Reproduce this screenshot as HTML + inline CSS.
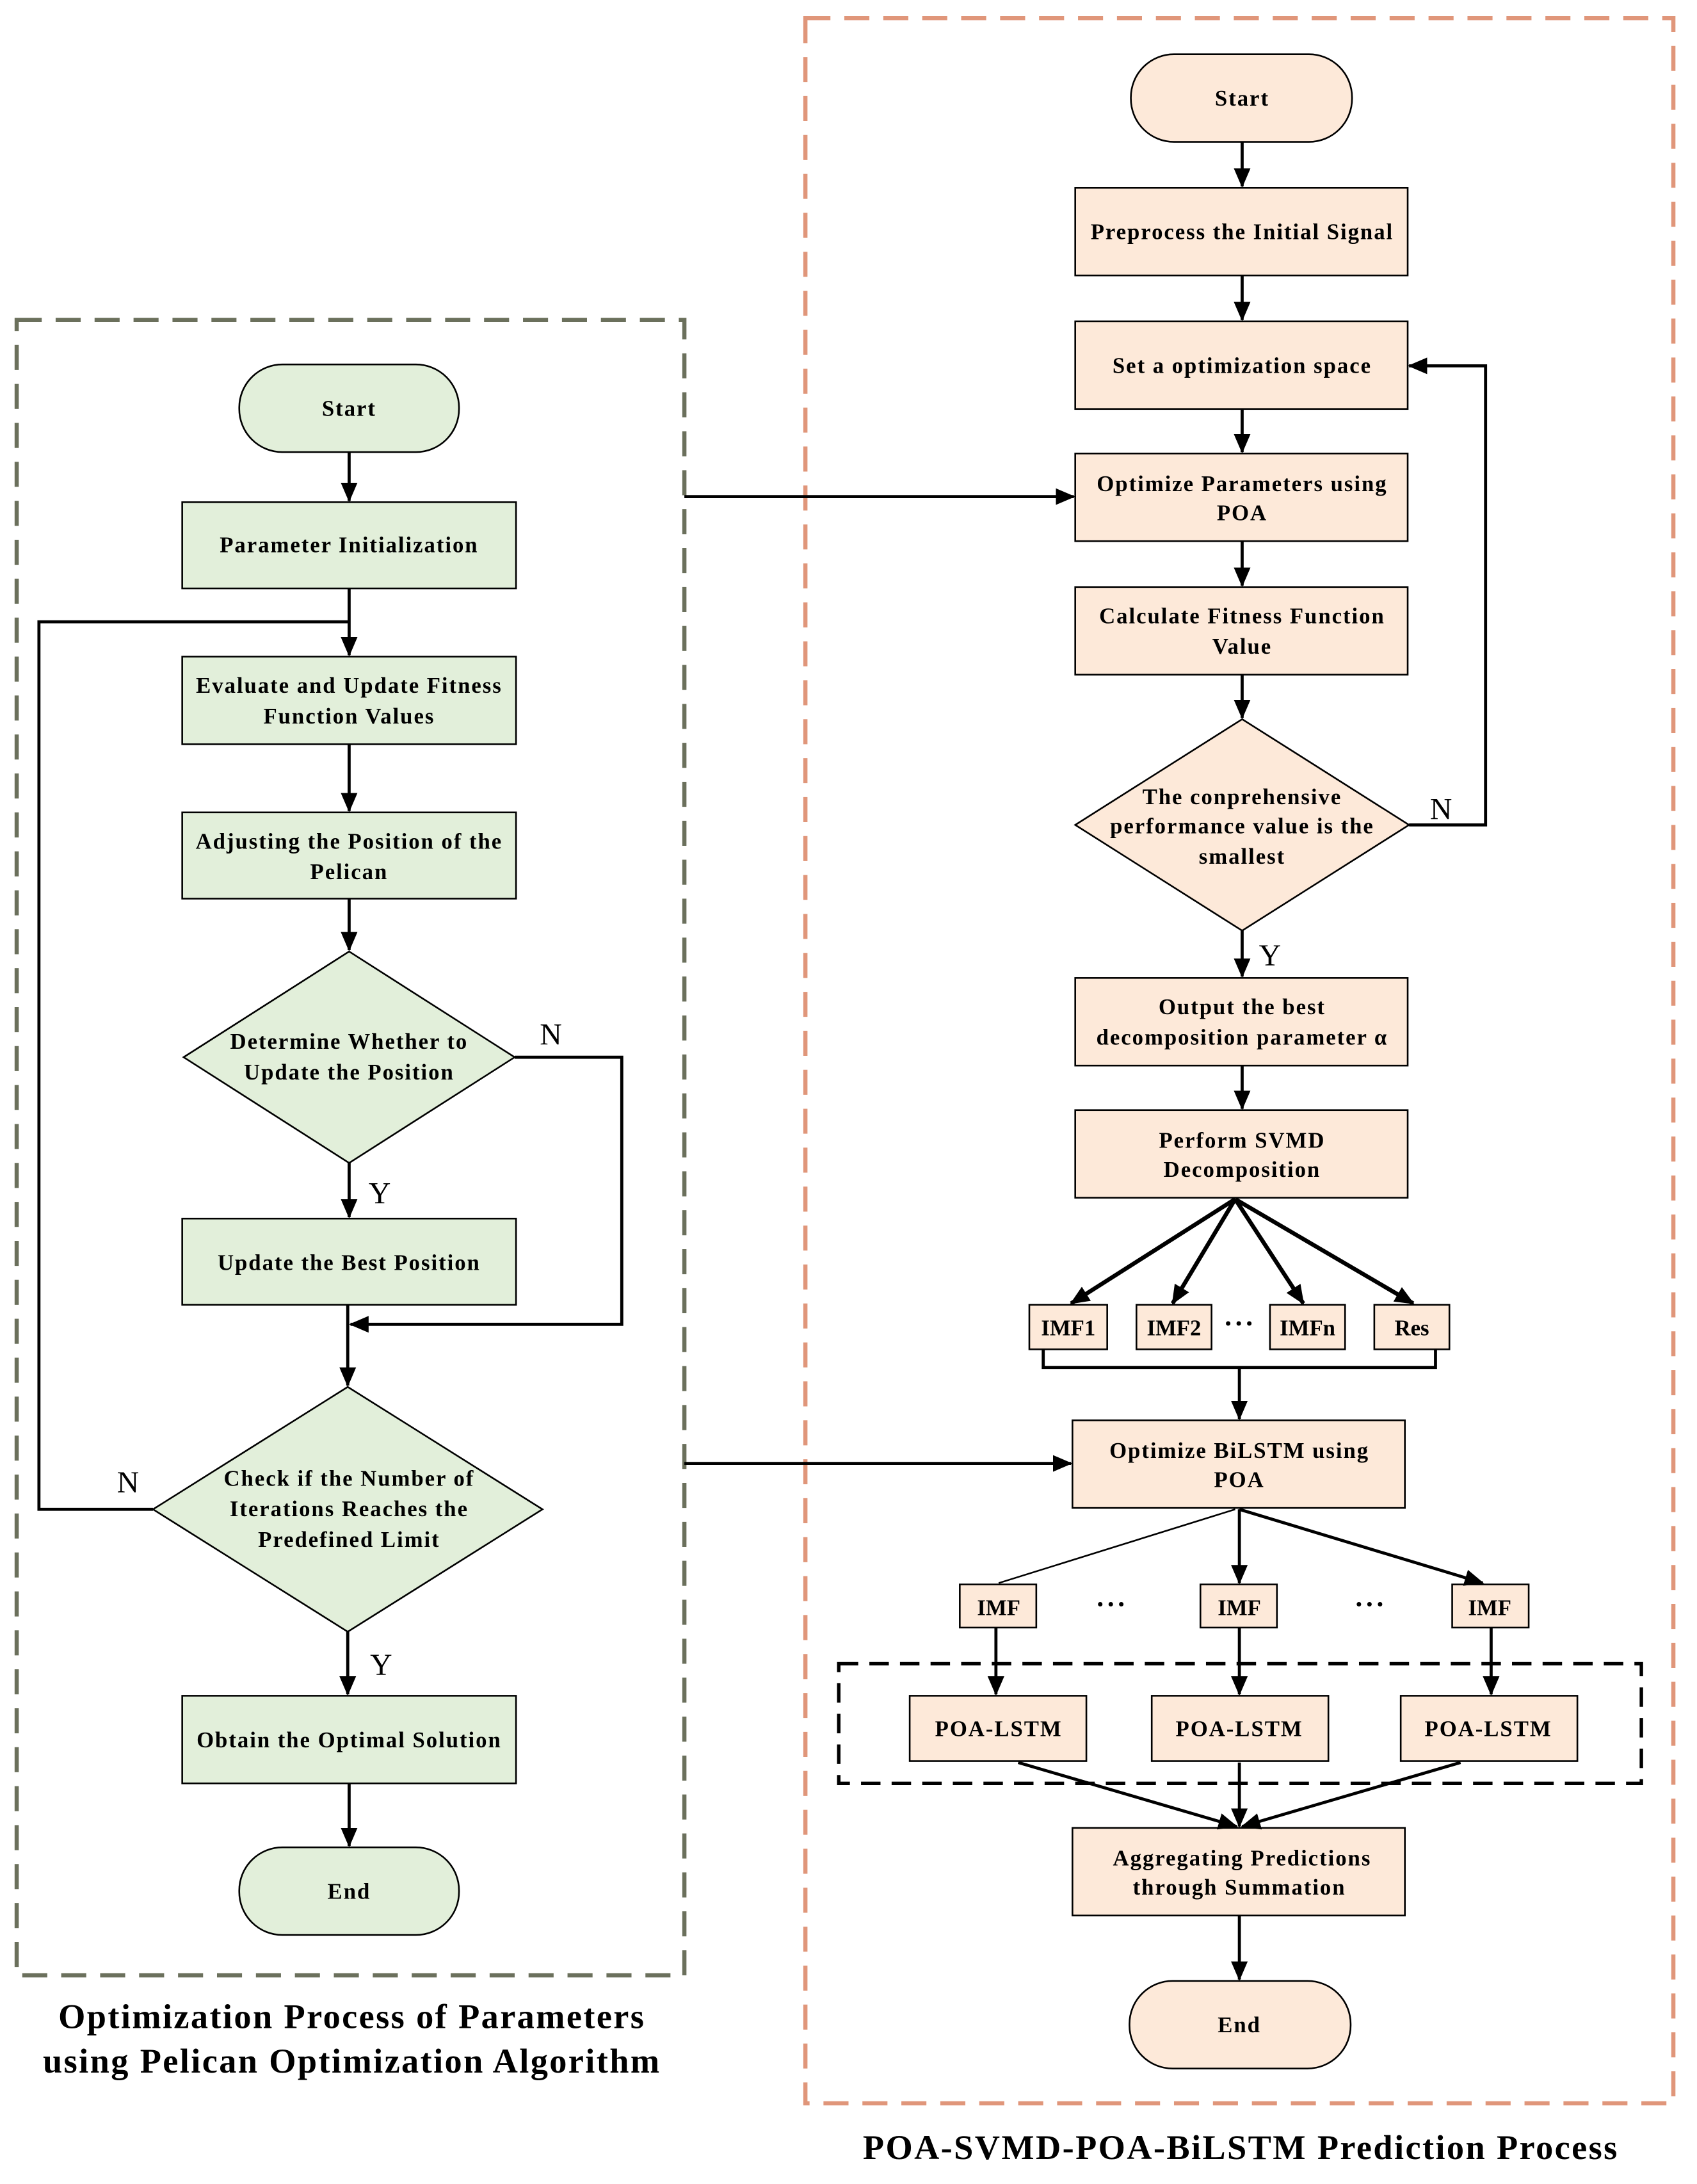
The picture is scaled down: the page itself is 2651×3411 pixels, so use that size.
<!DOCTYPE html>
<html><head><meta charset="utf-8"><style>html,body{margin:0;padding:0;background:#fff}svg{display:block}</style></head><body>
<svg width="2651" height="3411" viewBox="0 0 1220 1570" preserveAspectRatio="none" xmlns="http://www.w3.org/2000/svg" font-family="Liberation Serif, serif">
<defs>
<marker id="a" markerUnits="userSpaceOnUse" markerWidth="14" markerHeight="14" refX="13" refY="7" orient="auto"><path d="M0,1 L14,7 L0,13 Z" fill="#000"/></marker>
</defs>
<rect x="12" y="230" width="480" height="1190" fill="none" stroke="#6b705c" stroke-width="3" stroke-dasharray="18,10"/>
<rect x="579" y="13" width="624" height="1499" fill="none" stroke="#e0967a" stroke-width="3" stroke-dasharray="18,10"/>
<g stroke="#000" stroke-width="1.2" fill="#e2efda">
<rect x="172" y="262" width="158" height="63" rx="31"/>
<rect x="131" y="361" width="240" height="62"/>
<rect x="131" y="472" width="240" height="63"/>
<rect x="131" y="584" width="240" height="62"/>
<path d="M251,684 L370,760 L251,836 L132,760 Z"/>
<rect x="131" y="876" width="240" height="62"/>
<path d="M250,997 L390,1085 L250,1173 L110,1085 Z"/>
<rect x="131" y="1219" width="240" height="63"/>
<rect x="172" y="1328" width="158" height="63" rx="31"/>
</g>
<g stroke="#000" stroke-width="1.2" fill="#fde9d9">
<rect x="813" y="39" width="159" height="63" rx="31"/>
<rect x="773" y="135" width="239" height="63"/>
<rect x="773" y="231" width="239" height="63"/>
<rect x="773" y="326" width="239" height="63"/>
<rect x="773" y="422" width="239" height="63"/>
<path d="M893,517 L1013,593 L893,669 L773,593 Z"/>
<rect x="773" y="703" width="239" height="63"/>
<rect x="773" y="798" width="239" height="63"/>
<rect x="740" y="938" width="56" height="32"/>
<rect x="817" y="938" width="54" height="32"/>
<rect x="913" y="938" width="54" height="32"/>
<rect x="988" y="938" width="54" height="32"/>
<rect x="771" y="1021" width="239" height="63"/>
<rect x="690" y="1139" width="55" height="31"/>
<rect x="863" y="1139" width="55" height="31"/>
<rect x="1044" y="1139" width="55" height="31"/>
<rect x="654" y="1219" width="127" height="47"/>
<rect x="828" y="1219" width="127" height="47"/>
<rect x="1007" y="1219" width="127" height="47"/>
<rect x="771" y="1314" width="239" height="63"/>
<rect x="812" y="1424" width="159" height="63" rx="31"/>
</g>
<rect x="603" y="1196" width="577" height="86" fill="none" stroke="#000" stroke-width="2.5" stroke-dasharray="14,8"/>
<g stroke="#000" stroke-width="2.2" fill="none">
<line x1="251" y1="325" x2="251" y2="360" marker-end="url(#a)"/>
<line x1="251" y1="423" x2="251" y2="471" marker-end="url(#a)"/>
<polyline points="110,1085 28,1085 28,447 251,447"/>
<line x1="251" y1="535" x2="251" y2="583" marker-end="url(#a)"/>
<line x1="251" y1="646" x2="251" y2="683" marker-end="url(#a)"/>
<line x1="251" y1="836" x2="251" y2="875" marker-end="url(#a)"/>
<polyline points="370,760 447,760 447,952 252,952" marker-end="url(#a)"/>
<line x1="250" y1="938" x2="250" y2="996" marker-end="url(#a)"/>
<line x1="250" y1="1173" x2="250" y2="1218" marker-end="url(#a)"/>
<line x1="251" y1="1282" x2="251" y2="1327" marker-end="url(#a)"/>
<line x1="492" y1="357" x2="772" y2="357" marker-end="url(#a)"/>
<line x1="492" y1="1052" x2="770" y2="1052" marker-end="url(#a)"/>
<line x1="893" y1="102" x2="893" y2="134" marker-end="url(#a)"/>
<line x1="893" y1="198" x2="893" y2="230" marker-end="url(#a)"/>
<line x1="893" y1="294" x2="893" y2="325" marker-end="url(#a)"/>
<line x1="893" y1="389" x2="893" y2="421" marker-end="url(#a)"/>
<line x1="893" y1="485" x2="893" y2="516" marker-end="url(#a)"/>
<polyline points="1013,593 1068,593 1068,263 1013,263" marker-end="url(#a)"/>
<line x1="893" y1="669" x2="893" y2="702" marker-end="url(#a)"/>
<line x1="893" y1="766" x2="893" y2="797" marker-end="url(#a)"/>
<g stroke-width="3">
<line x1="888" y1="862" x2="770" y2="937" marker-end="url(#a)"/>
<line x1="888" y1="862" x2="843" y2="937" marker-end="url(#a)"/>
<line x1="888" y1="862" x2="937" y2="937" marker-end="url(#a)"/>
<line x1="888" y1="862" x2="1016" y2="937" marker-end="url(#a)"/>
</g>
<polyline points="750,970 750,983 1032,983 1032,970"/>
<line x1="891" y1="983" x2="891" y2="1020" marker-end="url(#a)"/>
<line x1="888" y1="1085" x2="718" y2="1138" stroke-width="1.2"/>
<line x1="891" y1="1085" x2="891" y2="1138" marker-end="url(#a)"/>
<line x1="891" y1="1085" x2="1066" y2="1138" marker-end="url(#a)"/>
<line x1="716" y1="1170" x2="716" y2="1218" marker-end="url(#a)"/>
<line x1="891" y1="1170" x2="891" y2="1218" marker-end="url(#a)"/>
<line x1="1072" y1="1170" x2="1072" y2="1218" marker-end="url(#a)"/>
<line x1="732" y1="1267" x2="889" y2="1313" marker-end="url(#a)"/>
<line x1="891" y1="1267" x2="891" y2="1313" marker-end="url(#a)"/>
<line x1="1050" y1="1267" x2="893" y2="1313" marker-end="url(#a)"/>
<line x1="891" y1="1377" x2="891" y2="1423" marker-end="url(#a)"/>
</g>
<g font-weight="bold" font-size="16" letter-spacing="0.9" text-anchor="middle" fill="#000">
<text x="251" y="299">Start</text>
<text x="251" y="397">Parameter Initialization</text>
<text x="251" y="498">Evaluate and Update Fitness</text>
<text x="251" y="520">Function Values</text>
<text x="251" y="610">Adjusting the Position of the</text>
<text x="251" y="632">Pelican</text>
<text x="251" y="754">Determine Whether to</text>
<text x="251" y="776">Update the Position</text>
<text x="251" y="913">Update the Best Position</text>
<text x="251" y="1068">Check if the Number of</text>
<text x="251" y="1090">Iterations Reaches the</text>
<text x="251" y="1112">Predefined Limit</text>
<text x="251" y="1256">Obtain the Optimal Solution</text>
<text x="251" y="1365">End</text>
<text x="893" y="76">Start</text>
<text x="893" y="172">Preprocess the Initial Signal</text>
<text x="893" y="268">Set a optimization space</text>
<text x="893" y="353">Optimize Parameters using</text>
<text x="893" y="374">POA</text>
<text x="893" y="448">Calculate Fitness Function</text>
<text x="893" y="470">Value</text>
<text x="893" y="578">The conprehensive</text>
<text x="893" y="599">performance value is the</text>
<text x="893" y="621">smallest</text>
<text x="893" y="729">Output the best</text>
<text x="893" y="751">decomposition parameter α</text>
<text x="893" y="825">Perform SVMD</text>
<text x="893" y="846">Decomposition</text>
<text x="768" y="960" letter-spacing="0">IMF1</text>
<text x="844" y="960" letter-spacing="0">IMF2</text>
<text x="940" y="960" letter-spacing="0">IMFn</text>
<text x="1015" y="960" letter-spacing="0">Res</text>
<text x="891" y="958" font-size="20">···</text>
<text x="891" y="1048">Optimize BiLSTM using</text>
<text x="891" y="1069">POA</text>
<text x="718" y="1161" letter-spacing="0">IMF</text>
<text x="891" y="1161" letter-spacing="0">IMF</text>
<text x="1071" y="1161" letter-spacing="0">IMF</text>
<text x="799" y="1160" font-size="20">···</text>
<text x="985" y="1160" font-size="20">···</text>
<text x="718" y="1248">POA-LSTM</text>
<text x="891" y="1248">POA-LSTM</text>
<text x="1070" y="1248">POA-LSTM</text>
<text x="893" y="1341">Aggregating Predictions</text>
<text x="891" y="1362">through Summation</text>
<text x="891" y="1461">End</text>
</g>
<g font-size="22" fill="#000" text-anchor="middle">
<text x="396" y="751">N</text>
<text x="273" y="865">Y</text>
<text x="92" y="1073">N</text>
<text x="274" y="1204">Y</text>
<text x="1036" y="589">N</text>
<text x="913" y="694">Y</text>
</g>
<g font-weight="bold" font-size="25" letter-spacing="1.1" text-anchor="middle" fill="#000">
<text x="253" y="1458">Optimization Process of Parameters</text>
<text x="253" y="1490">using Pelican Optimization Algorithm</text>
<text x="892" y="1552">POA-SVMD-POA-BiLSTM Prediction Process</text>
</g>
</svg>
</body></html>
